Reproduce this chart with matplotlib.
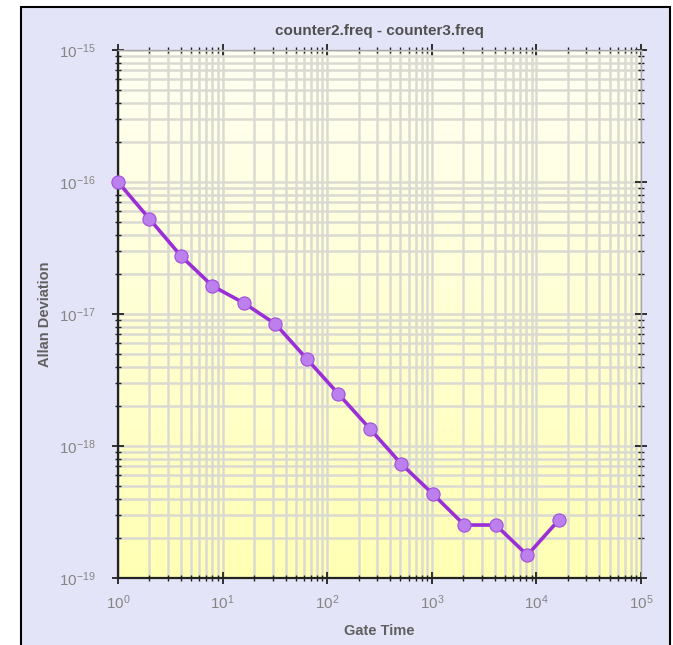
import numpy as np
import matplotlib
matplotlib.use("Agg")
import matplotlib.pyplot as plt
from matplotlib.patches import Rectangle
from matplotlib.ticker import LogLocator, NullFormatter

plt.rcParams["font.family"] = ["Liberation Sans", "DejaVu Sans"]
plt.rcParams["mathtext.fontset"] = "custom"
plt.rcParams["mathtext.rm"] = "Liberation Sans"
plt.rcParams["mathtext.it"] = "Liberation Sans"

# gate times (s) and allan deviation
gate_time = [1, 2, 4, 8, 16, 32, 64, 128, 256, 512, 1024, 2048, 4096, 8192, 16384]
adev = [1.0e-16, 5.25e-17, 2.75e-17, 1.63e-17, 1.21e-17, 8.4e-18, 4.56e-18,
        2.48e-18, 1.35e-18, 7.3e-19, 4.33e-19, 2.52e-19, 2.52e-19, 1.49e-19, 2.75e-19]

x_ticks = [1e0, 1e1, 1e2, 1e3, 1e4, 1e5]
x_tick_labels = ["$10^{0}$", "$10^{1}$", "$10^{2}$", "$10^{3}$", "$10^{4}$", "$10^{5}$"]
y_ticks = [1e-19, 1e-18, 1e-17, 1e-16, 1e-15]
y_tick_labels = ["$10^{-19}$", "$10^{-18}$", "$10^{-17}$", "$10^{-16}$", "$10^{-15}$"]

title = "counter2.freq - counter3.freq"
xlabel = "Gate Time"
ylabel = "Allan Deviation"

fig = plt.figure(figsize=(6.73, 6.45), dpi=100)
fig.patch.set_facecolor("white")

# lavender panel with black border
fig.patches.append(Rectangle((21 / 673, -0.05), (670 - 21) / 673, 1.05 - 7 / 645,
                             transform=fig.transFigure, facecolor="#e4e4f8",
                             edgecolor="black", linewidth=1.5, zorder=-5))

ax = fig.add_axes([118 / 673, (645 - 578) / 645, 523 / 673, 528 / 645])
ax.set_xscale("log")
ax.set_yscale("log")

# yellow gradient background
grad = np.linspace(0, 1, 256).reshape(-1, 1)
cmap = matplotlib.colors.LinearSegmentedColormap.from_list("bg", ["#ffffb4", "#fffff4"])
ax.imshow(grad, cmap=cmap, extent=[0, 1, 0, 1], transform=ax.transAxes,
          aspect="auto", origin="lower", zorder=0)

ax.plot(gate_time, adev, color="#9a2fd6", linewidth=2.6, zorder=3, clip_on=False)
ax.plot(gate_time, adev, linestyle="none", marker="o", markersize=9.5,
        markerfacecolor="#bb80ee", markeredgecolor="#a24ddc", markeredgewidth=0.8,
        zorder=4, clip_on=False)

ax.set_xlim(1, 1e5)
ax.set_ylim(1e-19, 1e-15)

ax.set_xticks(x_ticks, x_tick_labels)
ax.set_yticks(y_ticks, y_tick_labels)
ax.xaxis.set_minor_locator(LogLocator(base=10, subs=np.arange(2, 10), numticks=50))
ax.yaxis.set_minor_locator(LogLocator(base=10, subs=np.arange(2, 10), numticks=50))
ax.xaxis.set_minor_formatter(NullFormatter())
ax.yaxis.set_minor_formatter(NullFormatter())

ax.grid(True, which="both", color="#dadad2", linewidth=1.8, zorder=1)
ax.set_axisbelow(True)

for s in ["top", "right"]:
    ax.spines[s].set_linewidth(1.0)
    ax.spines[s].set_color("#a8a8a8")
for s in ["left", "bottom"]:
    ax.spines[s].set_linewidth(1.6)
    ax.spines[s].set_color("#222222")

ax.tick_params(which="major", direction="inout", length=8, width=1.3, color="#222222",
               labelsize=11, labelcolor="#858585", top=True, right=True)
ax.tick_params(which="minor", direction="inout", length=5, width=1.0, color="#222222",
               top=True, right=True)
ax.tick_params(axis="x", pad=7)
ax.tick_params(axis="y", pad=12)

ax.set_title(title, fontsize=11, fontweight="bold", color="#505050", pad=11)
ax.set_xlabel(xlabel, fontsize=10.5, fontweight="bold", color="#606060", labelpad=9)
ax.set_ylabel(ylabel, fontsize=10.5, fontweight="bold", color="#606060", labelpad=5)

fig.savefig("out.png", dpi=100)
